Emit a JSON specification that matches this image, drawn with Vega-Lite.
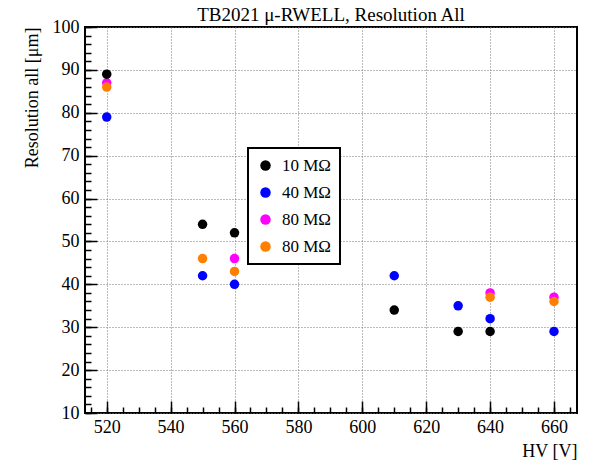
{
  "$schema": "https://vega.github.io/schema/vega-lite/v6.json",
  "width": 492,
  "height": 386,
  "autosize": "none",
  "padding": {"left": 85, "top": 27, "right": 23, "bottom": 51},
  "background": "white",
  "title": {"text": "TB2021  μ-RWELL, Resolution All", "font": "Liberation Serif", "fontSize": 19, "fontWeight": "normal", "color": "black", "anchor": "middle", "frame": "group", "offset": 4, "dy": 11},
  "config": {
    "view": {"stroke": "black", "strokeWidth": 2},
    "font": "Liberation Serif",
    "legend": {"strokeWidth": 2},
    "axis": {"labelFont": "Liberation Serif", "titleFont": "Liberation Serif", "labelFontSize": 18, "titleFontSize": 18, "titleFontWeight": "normal", "labelColor": "black", "titleColor": "black", "domain": false, "tickColor": "black", "tickWidth": 1.5, "gridColor": "#777", "gridDash": [1, 2], "gridWidth": 1}
  },
  "data": {"values": [
    {"hv": 520, "res": 87, "series": "80 MΩ m"},
    {"hv": 560, "res": 46, "series": "80 MΩ m"},
    {"hv": 640, "res": 38, "series": "80 MΩ m"},
    {"hv": 660, "res": 37, "series": "80 MΩ m"},
    {"hv": 520, "res": 86, "series": "80 MΩ o"},
    {"hv": 550, "res": 46, "series": "80 MΩ o"},
    {"hv": 560, "res": 43, "series": "80 MΩ o"},
    {"hv": 640, "res": 37, "series": "80 MΩ o"},
    {"hv": 660, "res": 36, "series": "80 MΩ o"},
    {"hv": 520, "res": 79, "series": "40 MΩ"},
    {"hv": 550, "res": 42, "series": "40 MΩ"},
    {"hv": 560, "res": 40, "series": "40 MΩ"},
    {"hv": 610, "res": 42, "series": "40 MΩ"},
    {"hv": 630, "res": 35, "series": "40 MΩ"},
    {"hv": 640, "res": 32, "series": "40 MΩ"},
    {"hv": 660, "res": 29, "series": "40 MΩ"},
    {"hv": 520, "res": 89, "series": "10 MΩ"},
    {"hv": 550, "res": 54, "series": "10 MΩ"},
    {"hv": 560, "res": 52, "series": "10 MΩ"},
    {"hv": 610, "res": 34, "series": "10 MΩ"},
    {"hv": 630, "res": 29, "series": "10 MΩ"},
    {"hv": 640, "res": 29, "series": "10 MΩ"}
  ]},
  "resolve": {"axis": {"x": "independent", "y": "independent"}},
  "layer": [
    {
      "mark": {"type": "circle", "size": 90, "opacity": 0},
      "encoding": {
        "x": {
          "field": "hv", "type": "quantitative",
          "scale": {"domain": [513.2, 667.2], "nice": false, "zero": false},
          "axis": {"orient": "bottom", "title": null, "labels": false, "grid": false, "tickSize": -6, "tickWidth": 1.5,
            "values": [515,520,525,530,535,540,545,550,555,560,565,570,575,580,585,590,595,600,605,610,615,620,625,630,635,640,645,650,655,660,665]}
        },
        "y": {
          "field": "res", "type": "quantitative",
          "scale": {"domain": [10, 100], "nice": false, "zero": false},
          "axis": {"orient": "left", "title": null, "labels": false, "grid": false, "tickSize": -6, "tickWidth": 1.5,
            "values": [10,12,14,16,18,20,22,24,26,28,30,32,34,36,38,40,42,44,46,48,50,52,54,56,58,60,62,64,66,68,70,72,74,76,78,80,82,84,86,88,90,92,94,96,98,100]}
        }
      }
    },
    {
      "mark": {"type": "circle", "size": 90, "opacity": 1},
      "encoding": {
        "x": {
          "field": "hv", "type": "quantitative",
          "axis": {
            "orient": "bottom", "title": "HV [V]", "titleAnchor": "end", "titleAlign": "right", "titleX": 492, "titleY": 43, "titleBaseline": "alphabetic",
            "titleFont": "Liberation Serif", "labelFont": "Liberation Serif",
            "values": [520,540,560,580,600,620,640,660], "tickSize": -12, "grid": true,
            "labelPadding": 17, "labelFlush": false, "labelOverlap": false
          }
        },
        "y": {
          "field": "res", "type": "quantitative",
          "axis": {
            "orient": "left", "title": "Resolution all [μm]", "titleAnchor": "end", "titleAlign": "right", "titleX": -53, "titleY": 0, "titleBaseline": "middle", "titleAngle": -90,
            "titleFont": "Liberation Serif", "labelFont": "Liberation Serif",
            "values": [10,20,30,40,50,60,70,80,90,100], "tickSize": -12, "grid": true,
            "labelPadding": 18, "labelFlush": false, "labelOverlap": false
          }
        },
        "color": {
          "field": "series", "type": "nominal",
          "scale": {"domain": ["10 MΩ", "40 MΩ", "80 MΩ m", "80 MΩ o"], "range": ["#000000", "#0000ff", "#ff00ff", "#ff7f00"]},
          "legend": {
            "title": null, "orient": "none", "legendX": 163, "legendY": 121,
            "labelExpr": "replace(replace(datum.label, ' m', ''), ' o', '')",
            "strokeColor": "black", "fillColor": "white", "padding": 9,
            "labelFont": "Liberation Serif", "labelFontSize": 17, "labelColor": "black",
            "symbolType": "circle", "symbolSize": 110, "symbolStrokeWidth": 0, "symbolOpacity": 1,
            "rowPadding": 9, "labelOffset": 8, "labelLimit": 200
          }
        }
      }
    }
  ]
}
